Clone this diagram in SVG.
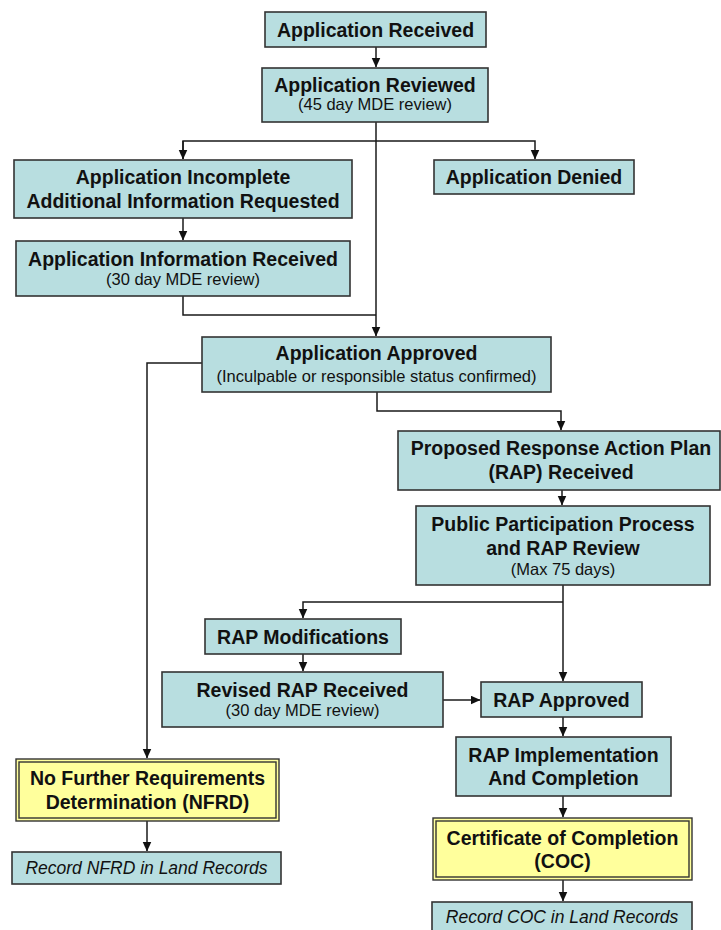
<svg xmlns="http://www.w3.org/2000/svg" width="721" height="930" viewBox="0 0 721 930">
<defs>
<style>
.b{fill:#B8DEE0;stroke:#333;stroke-width:1.6}
.y{fill:#FFFF9C;stroke:#333;stroke-width:1.4}
.t{font-family:"Liberation Sans",Arial,sans-serif;font-weight:bold;font-size:19.5px;fill:#111;text-anchor:middle}
.s{font-family:"Liberation Sans",Arial,sans-serif;font-size:16.5px;fill:#111;text-anchor:middle}
.i{font-family:"Liberation Sans",Arial,sans-serif;font-style:italic;font-size:17.5px;fill:#111;text-anchor:middle}
.c{fill:none;stroke:#1a1a1a;stroke-width:1.5}
</style>
<marker id="a" markerUnits="userSpaceOnUse" markerWidth="10" markerHeight="11" refX="9.5" refY="4.5" orient="auto">
<path d="M0,0 L10,4.5 L0,9 Z" fill="#111"/>
</marker>
</defs>
<rect width="721" height="930" fill="#fff"/>
<g id="connectors">
<path class="c" d="M376,47 V67" marker-end="url(#a)"/>
<path class="c" d="M376,122 V336" marker-end="url(#a)"/>
<path class="c" d="M183,159 V141 H535 V159" marker-end="url(#a)"/>
<path class="c" d="M183,141 V159" marker-end="url(#a)"/>
<path class="c" d="M183,218 V240" marker-end="url(#a)"/>
<path class="c" d="M183,296 V315 H376"/>
<path class="c" d="M202,363 H147 V758" marker-end="url(#a)"/>
<path class="c" d="M377,392 V411 H561 V430" marker-end="url(#a)"/>
<path class="c" d="M562,490 V505" marker-end="url(#a)"/>
<path class="c" d="M563,585 V681" marker-end="url(#a)"/>
<path class="c" d="M563,602 H303 V618" marker-end="url(#a)"/>
<path class="c" d="M303,654 V671" marker-end="url(#a)"/>
<path class="c" d="M443,700 H480" marker-end="url(#a)"/>
<path class="c" d="M563,717 V736" marker-end="url(#a)"/>
<path class="c" d="M563,796 V817" marker-end="url(#a)"/>
<path class="c" d="M563,880 V901" marker-end="url(#a)"/>
<path class="c" d="M147,821 V851" marker-end="url(#a)"/>
</g>
<g id="app-received">
<rect class="b" x="265" y="12" width="221" height="35"/>
<text class="t" x="375.5" y="36.5">Application Received</text>
</g>
<g id="app-reviewed">
<rect class="b" x="262" y="68" width="226" height="54"/>
<text class="t" x="375" y="92">Application Reviewed</text>
<text class="s" x="375" y="110">(45 day MDE review)</text>
</g>
<g id="app-incomplete">
<rect class="b" x="14" y="160" width="338" height="58"/>
<text class="t" x="183" y="184">Application Incomplete</text>
<text class="t" x="183" y="208">Additional Information Requested</text>
</g>
<g id="app-denied">
<rect class="b" x="434" y="160" width="200" height="34"/>
<text class="t" x="534" y="184">Application Denied</text>
</g>
<g id="app-info-received">
<rect class="b" x="16" y="241" width="334" height="55"/>
<text class="t" x="183" y="266">Application Information Received</text>
<text class="s" x="183" y="285">(30 day MDE review)</text>
</g>
<g id="app-approved">
<rect class="b" x="202" y="337" width="349" height="55"/>
<text class="t" x="376.5" y="360">Application Approved</text>
<text class="s" x="376.5" y="382">(Inculpable or responsible status confirmed)</text>
</g>
<g id="proposed-rap">
<rect class="b" x="398" y="431" width="322" height="59"/>
<text class="t" x="561" y="455">Proposed Response Action Plan</text>
<text class="t" x="561" y="479">(RAP) Received</text>
</g>
<g id="public-participation">
<rect class="b" x="416" y="506" width="294" height="79"/>
<text class="t" x="563" y="531">Public Participation Process</text>
<text class="t" x="563" y="555">and RAP Review</text>
<text class="s" x="563" y="575">(Max 75 days)</text>
</g>
<g id="rap-modifications">
<rect class="b" x="205" y="619" width="196" height="35"/>
<text class="t" x="303" y="644">RAP Modifications</text>
</g>
<g id="revised-rap">
<rect class="b" x="162" y="672" width="281" height="55"/>
<text class="t" x="302.5" y="697">Revised RAP Received</text>
<text class="s" x="302.5" y="716">(30 day MDE review)</text>
</g>
<g id="rap-approved">
<rect class="b" x="481" y="682" width="161" height="35"/>
<text class="t" x="561.5" y="707">RAP Approved</text>
</g>
<g id="rap-implementation">
<rect class="b" x="456" y="737" width="215" height="59"/>
<text class="t" x="563.5" y="762">RAP Implementation</text>
<text class="t" x="563.5" y="785">And Completion</text>
</g>
<g id="coc">
<rect class="y" x="433" y="818" width="259" height="62"/>
<rect class="y" x="436" y="821" width="253" height="56"/>
<text class="t" x="562.5" y="845">Certificate of Completion</text>
<text class="t" x="562.5" y="868">(COC)</text>
</g>
<g id="record-coc">
<rect class="b" x="432" y="902" width="260" height="40"/>
<text class="i" x="562" y="923">Record COC in Land Records</text>
</g>
<g id="nfrd">
<rect class="y" x="16" y="759" width="263" height="62"/>
<rect class="y" x="19" y="762" width="257" height="56"/>
<text class="t" x="147.5" y="785">No Further Requirements</text>
<text class="t" x="147.5" y="809">Determination (NFRD)</text>
</g>
<g id="record-nfrd">
<rect class="b" x="12" y="852" width="269" height="32"/>
<text class="i" x="146.5" y="874">Record NFRD in Land Records</text>
</g>
</svg>
